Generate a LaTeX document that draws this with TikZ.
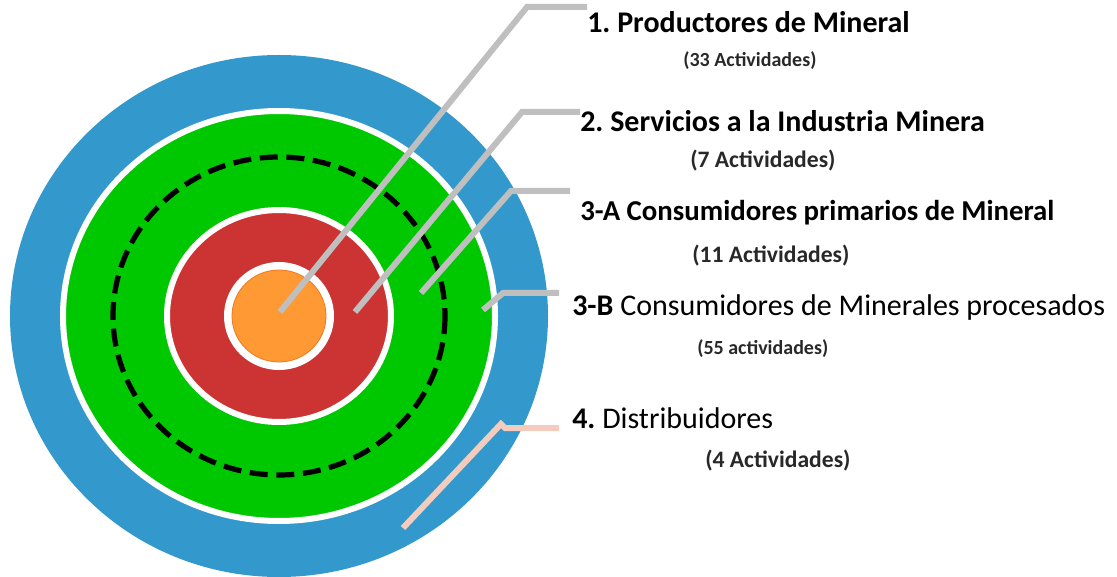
\documentclass[tikz,border=0pt]{standalone}
\usepackage{fontspec}
\setmainfont{Carlito}
\usetikzlibrary{positioning}
\definecolor{ringblue}{RGB}{51,153,204}
\definecolor{ringgreen}{RGB}{0,200,0}
\definecolor{ringred}{RGB}{204,51,51}
\definecolor{ringorange}{RGB}{255,153,51}
\definecolor{ringorangedark}{RGB}{240,120,30}
\definecolor{leadergray}{RGB}{191,191,191}
\definecolor{leaderpink}{RGB}{244,204,190}
\definecolor{textgray}{RGB}{40,40,40}
\frenchspacing

\begin{document}
\begin{tikzpicture} [%
    x = 0.75pt,
    y = -0.75pt,
    leader/.style = {%
      draw = leadergray,
      line width = 4.5pt },
    ring/.style = {%
      draw = white,
      line width = 4.5pt },
    title/.style = {%
      anchor = west,
      inner sep = 0pt,
      font = \fontsize{22.5}{26}\selectfont,
      text = black },
    count/.style = {%
      anchor = west,
      inner sep = 0pt,
      font = \bfseries\fontsize{17.7}{20}\selectfont,
      text = textgray }
  ]

  \useasboundingbox (0,0) rectangle (1117,577);
  \coordinate (O) at (279,316);

  % rings
  \fill[ringblue] (O) ellipse [x radius=269, y radius=261];
  \path[ring, fill=ringgreen] (O) ellipse [x radius=216, y radius=205];
  \draw[line width=3.9pt, dash pattern=on 13.5pt off 6.5pt] (O) ellipse [x radius=166, y radius=159];
  \path[ring, fill=ringred] (O) ellipse [x radius=112, y radius=106];
  \fill[white] (O) ellipse [x radius=55, y radius=54];
  \filldraw[fill=ringorange, draw=ringorangedark, line width=0.6pt] (O) ellipse [x radius=47, y radius=46];

  % labels
  \node[title, font=\bfseries\fontsize{22.5}{26}\selectfont] (L1) at (587,22) {1. Productores de Mineral};
  \node[count, font=\bfseries\fontsize{15}{18}\selectfont] (C1) at (683,61) {(33 Actividades)};
  \node[title, font=\bfseries\fontsize{22.5}{26}\selectfont] (L2) at (580,121) {2. Servicios a la Industria Minera};
  \node[count] (C2) at (690,161) {(7 Actividades)};
  \node[title, font=\bfseries\fontsize{21.6}{26}\selectfont] (L3A) at (580,213) {3-A Consumidores primarios de Mineral};
  \node[count] (C3A) at (692,256) {(11 Actividades)};
  \node[title] (L3B) at (572,308) {\textbf{3-B} Consumidores de Minerales procesados};
  \node[count, font=\bfseries\fontsize{15}{18}\selectfont] (C3B) at (697,349) {(55 actividades)};
  \node[title] (L4) at (572,418) {\textbf{4.} Distribuidores};
  \node[count] (C4) at (705,461) {(4 Actividades)};

  % leader lines
  \coordinate (p1) at (280,312);
  \coordinate (b1) at (527,7);
  \coordinate (e1) at (587,7);
  \coordinate (p2) at (355,312);
  \coordinate (b2) at (522,112);
  \coordinate (e2) at (580,112);
  \coordinate (p3A) at (421,293);
  \coordinate (b3A) at (511,191);
  \coordinate (e3A) at (570,191);
  \coordinate (p3B) at (483,310);
  \coordinate (b3B) at (503,293);
  \coordinate (e3B) at (559,293);
  \coordinate (p4) at (403,528);
  \coordinate (b4) at (501,424);
  \coordinate (e4) at (559,428);

  \draw[leader] (p1) -- (b1) -- (e1);
  \draw[leader] (p2) -- (b2) -- (e2);
  \draw[leader] (p3A) -- (b3A) -- (e3A);
  \draw[leader] (p3B) -- (b3B) -- (e3B);
  \draw[leader, draw=leaderpink] (p4) -- (b4) -- (505,428) -- (e4);

\end{tikzpicture}
\end{document}
